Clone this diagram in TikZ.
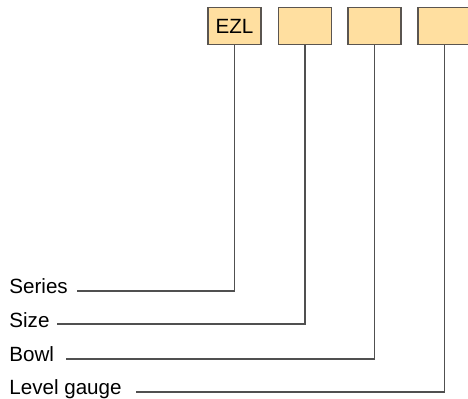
\documentclass[tikz,border=0pt]{standalone}
\usepackage{fontspec}
\setmainfont{Liberation Sans}
\definecolor{boxfill}{HTML}{FFDFA0}
\definecolor{boxline}{HTML}{5A5550}
\definecolor{leadline}{HTML}{505050}
\tikzset{
  codebox/.style={draw=boxline, fill=boxfill, line width=0.6pt, minimum width=26.5pt, minimum height=18.5pt, inner sep=0pt, font=\fontsize{10.3}{12}\selectfont},
  label/.style={anchor=base west, inner sep=0pt, font=\fontsize{10.3}{12}\selectfont},
  lead/.style={draw=leadline, line width=0.55pt}
}
\begin{document}
\begin{tikzpicture}[x=0.5pt, y=-0.5pt]
            \useasboundingbox (0, 0) rectangle (468, 399);
            \node[codebox] (ezl) at (234.5, 26) {EZL};
            \node[codebox] (size) at (305, 26) {};
            \node[codebox] (bowl) at (374.5, 26) {};
            \node[codebox] (gauge) at (444.5, 26) {};
            \node[label] (lseries) at (9, 294) {Series};
            \node[label] (lsize) at (9, 328) {Size};
            \node[label] (lbowl) at (9, 362) {Bowl};
            \node[label] (lgauge) at (9, 395) {Level gauge};
            \coordinate (series-end) at (77, 291);
            \coordinate (size-end) at (57, 324);
            \coordinate (bowl-end) at (66, 359);
            \coordinate (gauge-end) at (136, 392);
            \draw[lead] (ezl.south) |- (series-end);
            \draw[lead] (size.south) |- (size-end);
            \draw[lead] (bowl.south) |- (bowl-end);
            \draw[lead] (gauge.south) |- (gauge-end);
        \end{tikzpicture}
\end{document}
